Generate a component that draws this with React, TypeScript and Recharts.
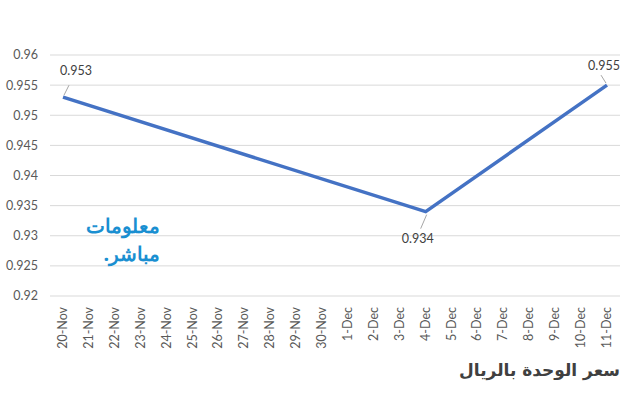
import { LineChart, Line, XAxis, YAxis, CartesianGrid } from "recharts";

const days = [
  "20-Nov", "21-Nov", "22-Nov", "23-Nov", "24-Nov", "25-Nov", "26-Nov", "27-Nov",
  "28-Nov", "29-Nov", "30-Nov", "1-Dec", "2-Dec", "3-Dec", "4-Dec", "5-Dec",
  "6-Dec", "7-Dec", "8-Dec", "9-Dec", "10-Dec", "11-Dec",
];

// only the three marked points are readable, the rest is a straight join
const prices = [
  0.953, null, null, null, null, null, null, null,
  null, null, null, null, null, null, 0.934, null,
  null, null, null, null, null, 0.955,
];

const yTicks = [0.92, 0.925, 0.93, 0.935, 0.94, 0.945, 0.95, 0.955, 0.96];

const chartData = days.map((day, i) => ({ day, price: prices[i] }));

const FONT = "Lato, 'Open Sans', sans-serif";

function DayTick(props: any) {
  const { x, y, payload } = props;
  return (
    <text
      x={0}
      y={0}
      transform={`translate(${x + 4},${y + 3}) rotate(-90)`}
      textAnchor="end"
      fill="#595959"
      fontSize={12.5}
      fontFamily={FONT}
    >
      {payload.value}
    </text>
  );
}

function PriceLabel(props: any) {
  const { x, y, value, index } = props;
  if (value == null) return null;
  const last = index === days.length - 1;
  const low = index === 14;
  // label offsets relative to the point, with a small leader line
  let lx = x + 13, ly = y - 27, l1 = [x + 1, y - 2], l2 = [x + 6, y - 12];
  if (low) {
    lx = x - 8; ly = y + 27; l1 = [x + 1, y + 3]; l2 = [x - 5, y + 17];
  } else if (last) {
    lx = x - 3; ly = y - 20; l1 = [x - 1, y - 2]; l2 = [x - 6, y - 10];
  }
  return (
    <g>
      <line x1={l1[0]} y1={l1[1]} x2={l2[0]} y2={l2[1]} stroke="#a6a6a6" strokeWidth={1} />
      <text
        x={lx}
        y={ly}
        textAnchor="middle"
        dominantBaseline="central"
        fill="#404040"
        fontSize={12.5}
        fontFamily={FONT}
      >
        {value}
      </text>
    </g>
  );
}

export default function App() {
  return (
    <div style={{ position: "absolute", left: 0, top: 0, width: 640, height: 400, background: "#fff" }}>
      <LineChart
        width={640}
        height={400}
        data={chartData}
        margin={{ top: 55, right: 20, bottom: 54, left: 0 }}
      >
        <CartesianGrid vertical={false} stroke="#d9d9d9" />
        <XAxis
          dataKey="day"
          interval={0}
          height={50}
          padding={{ left: 13, right: 13 }}
          axisLine={false}
          tickLine={false}
          tick={<DayTick />}
        />
        <YAxis
          domain={[0.92, 0.96]}
          ticks={yTicks}
          width={50}
          axisLine={false}
          tickLine={false}
          tickMargin={6}
          tick={{ fill: "#595959", fontSize: 12.5, fontFamily: FONT }}
        />
        <Line
          type="linear"
          dataKey="price"
          stroke="#4472c4"
          strokeWidth={3.5}
          dot={false}
          connectNulls
          isAnimationActive={false}
          label={<PriceLabel />}
        />
      </LineChart>
      <div
        style={{
          position: "absolute",
          left: 60,
          top: 212,
          color: "#1a8fd1",
          fontFamily: "'Noto Sans', sans-serif",
          fontWeight: 700,
          fontSize: 20,
          lineHeight: "28px",
          direction: "rtl",
          textAlign: "right",
          width: 100,
        }}
      >
        <div>معلومات</div>
        <div>مباشر.</div>
      </div>
      <div
        style={{
          position: "absolute",
          right: 20,
          top: 360,
          color: "#404040",
          fontFamily: "'DejaVu Sans', Arial, sans-serif",
          fontWeight: 700,
          fontSize: 17,
          direction: "rtl",
        }}
      >
        سعر الوحدة بالريال
      </div>
    </div>
  );
}
